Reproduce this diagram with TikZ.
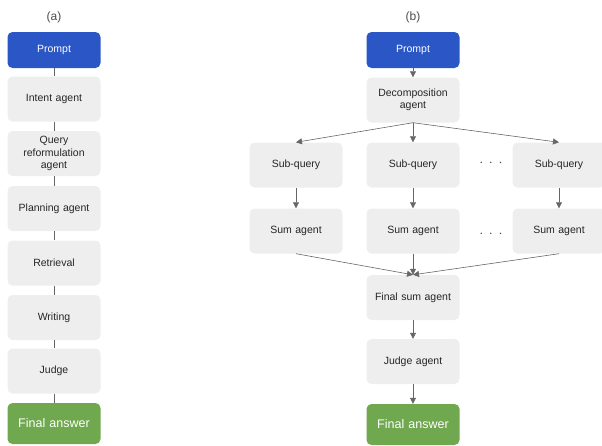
\documentclass[tikz,border=0pt]{standalone}
\usepackage{fontspec}
\setmainfont{Liberation Sans}
\usetikzlibrary{arrows.meta}
\definecolor{promptblue}{HTML}{2A56C6}
\definecolor{boxgray}{HTML}{EEEEEE}
\definecolor{answergreen}{HTML}{6FA84F}
\definecolor{linegray}{HTML}{666666}

\begin{document}
\begin{tikzpicture}[x=1pt,y=-1pt,
    agentbox/.style={fill=boxgray, rounded corners=5pt, minimum width=93pt,
        minimum height=45pt, text width=86pt, align=center, inner sep=0pt,
        font=\fontsize{10.5}{12.5}\selectfont, text=black!85},
    promptbox/.style={agentbox, fill=promptblue, minimum height=36pt, text=white},
    answerbox/.style={agentbox, fill=answergreen, minimum height=41pt, text=white,
        font=\fontsize{12.5}{14}\selectfont},
    tag/.style={font=\fontsize{12}{14}\selectfont, text=black!70},
    link/.style={draw=linegray, line width=0.6pt},
    flow/.style={link, -{Triangle[length=6pt,width=6pt]}},
    dots/.style={font=\fontsize{15}{16}\selectfont, text=black!70}]
    \useasboundingbox (0,0) rectangle (602,445);
    % (a) one pipeline
    \node[tag] (tagA) at (54,17) {(a)};
    \node[promptbox] (promptA) at (54,50) {Prompt};
    \node[agentbox] (intent) at (54,99) {Intent agent};
    \node[agentbox] (reform) at (54,153.5) {Query\\reformulation\\agent};
    \node[agentbox] (plan) at (54,208.5) {Planning agent};
    \node[agentbox] (retr) at (54,263) {Retrieval};
    \node[agentbox] (writ) at (54,317.5) {Writing};
    \node[agentbox] (judgeA) at (54,371) {Judge};
    \node[answerbox] (answerA) at (54,423.5) {Final answer};
    \foreach \u/\v in {promptA/intent, intent/reform, reform/plan, plan/retr,
        retr/writ, writ/judgeA, judgeA/answerA}
        \draw[link] (\u) -- (\v);
    % (b) decomposed queries
    \node[tag] (tagB) at (413,17) {(b)};
    \node[promptbox] (promptB) at (413,50) {Prompt};
    \node[agentbox] (decomp) at (413,100) {Decomposition\\agent};
    \node[agentbox] (subL) at (296,165) {Sub-query};
    \node[agentbox] (subM) at (413,165) {Sub-query};
    \node[agentbox] (subR) at (559,165) {Sub-query};
    \node[agentbox] (sumL) at (296,231) {Sum agent};
    \node[agentbox] (sumM) at (413,231) {Sum agent};
    \node[agentbox] (sumR) at (559,231) {Sum agent};
    \node[dots] (dotsSub) at (491,163) {$\cdot\,\cdot\,\cdot$};
    \node[dots] (dotsSum) at (491,234) {$\cdot\,\cdot\,\cdot$};
    \node[agentbox] (finalsum) at (413,297.5) {Final sum agent};
    \node[agentbox] (judgeB) at (413,361.5) {Judge agent};
    \node[answerbox] (answerB) at (413,424.5) {Final answer};
    \draw[flow] (promptB) -- (decomp);
    \foreach \s in {subL, subM, subR}
        \draw[flow] (decomp.south) -- (\s.north);
    \foreach \s/\t in {subL/sumL, subM/sumM, subR/sumR}
        \draw[flow] (\s) -- (\t);
    \foreach \s in {sumL, sumM, sumR}
        \draw[flow] (\s.south) -- (finalsum.north);
    \draw[flow] (finalsum) -- (judgeB);
    \draw[flow] (judgeB) -- (answerB);
\end{tikzpicture}
\end{document}
